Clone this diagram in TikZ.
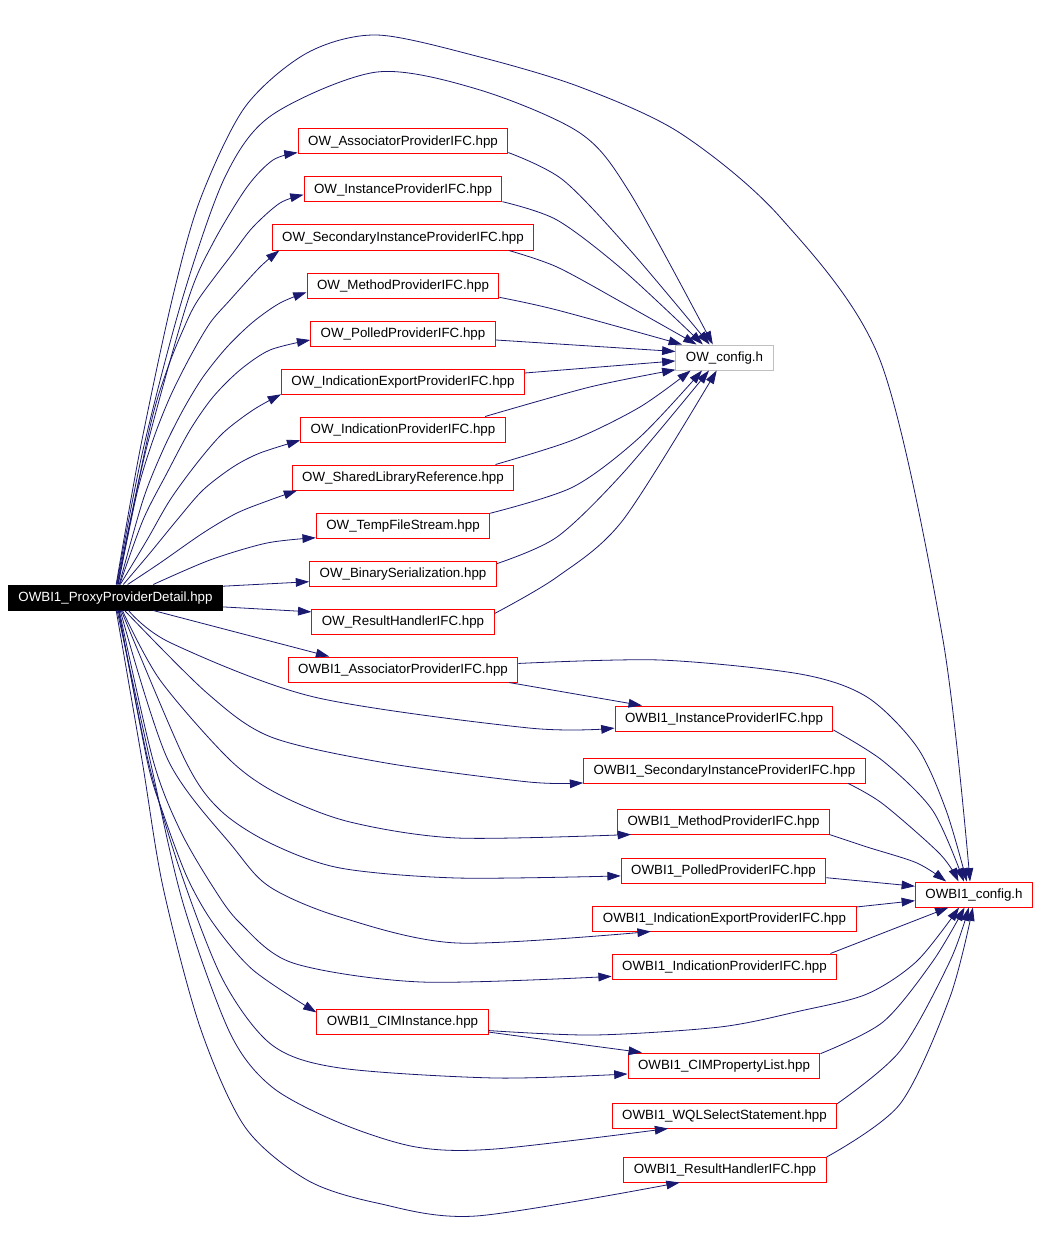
\documentclass[tikz,border=0pt]{standalone}
\usepackage{fontspec}
\setmainfont{Liberation Sans}
\usetikzlibrary{arrows.meta}
\definecolor{edgeblue}{HTML}{191970}
\definecolor{cfggray}{HTML}{BFBFBF}
\tikzset{
  hdrbox/.style={draw=red, line width=0.75pt, fill=white, font=\fontsize{10}{12}\selectfont,
    inner xsep=7.5pt, inner ysep=0pt, minimum height=18.75pt, text height=7.4pt, text depth=2pt},
  rootbox/.style={hdrbox, draw=black, fill=black, text=white},
  cfgbox/.style={hdrbox, draw=cfggray},
  incl/.style={draw=edgeblue, line width=0.6pt, -{Triangle[length=10pt,width=6.5pt]}}
}

\begin{document}
\begin{tikzpicture}[x=0.75pt, y=-0.75pt]
\path[use as bounding box, fill=white] (0,0) rectangle (1040,1255);

% the file itself
\node[rootbox] (root) at (115.5,597.5) {OWBI1\_ProxyProviderDetail.hpp};

% OW headers
\node[hdrbox] (owassoc) at (403,141.5) {OW\_AssociatorProviderIFC.hpp};
\node[hdrbox] (owinst) at (403,189.5) {OW\_InstanceProviderIFC.hpp};
\node[hdrbox] (owsecinst) at (403,237.5) {OW\_SecondaryInstanceProviderIFC.hpp};
\node[hdrbox] (owmethod) at (403,285.5) {OW\_MethodProviderIFC.hpp};
\node[hdrbox] (owpolled) at (403,333.5) {OW\_PolledProviderIFC.hpp};
\node[hdrbox] (owindexp) at (403,381.5) {OW\_IndicationExportProviderIFC.hpp};
\node[hdrbox] (owind) at (403,429.5) {OW\_IndicationProviderIFC.hpp};
\node[hdrbox] (owshlib) at (403,477.5) {OW\_SharedLibraryReference.hpp};
\node[hdrbox] (owtemp) at (403,525.5) {OW\_TempFileStream.hpp};
\node[hdrbox] (owbinser) at (403,573.5) {OW\_BinarySerialization.hpp};
\node[hdrbox] (owresult) at (403,621.5) {OW\_ResultHandlerIFC.hpp};
\node[cfgbox] (owcfg) at (724.5,357.5) {OW\_config.h};

% OWBI1 headers
\node[hdrbox] (biassoc) at (403,669.5) {OWBI1\_AssociatorProviderIFC.hpp};
\node[hdrbox] (biinst) at (724,718.5) {OWBI1\_InstanceProviderIFC.hpp};
\node[hdrbox] (bisecinst) at (724.5,770.5) {OWBI1\_SecondaryInstanceProviderIFC.hpp};
\node[hdrbox] (bimethod) at (723.5,821.5) {OWBI1\_MethodProviderIFC.hpp};
\node[hdrbox] (bipolled) at (723.5,870.5) {OWBI1\_PolledProviderIFC.hpp};
\node[hdrbox] (biindexp) at (724.5,918.5) {OWBI1\_IndicationExportProviderIFC.hpp};
\node[hdrbox] (biind) at (724.5,966.5) {OWBI1\_IndicationProviderIFC.hpp};
\node[hdrbox] (bicim) at (402.5,1021.5) {OWBI1\_CIMInstance.hpp};
\node[hdrbox] (biprop) at (724,1065.5) {OWBI1\_CIMPropertyList.hpp};
\node[hdrbox] (biwql) at (724.5,1115.5) {OWBI1\_WQLSelectStatement.hpp};
\node[hdrbox] (biresult) at (725,1169.5) {OWBI1\_ResultHandlerIFC.hpp};
\node[hdrbox] (bicfg) at (974,894.5) {OWBI1\_config.h};

% includes of the file, upwards
\draw[incl] plot[smooth] coordinates {(root.87.7) (140,450) (172,300) (200,200) (245,107) (307,53) (377,35) (480,57) (580,87) (680,133) (780,217) (880,360) (943,640) (bicfg.107.7)};
\draw[incl] plot[smooth] coordinates {(root.85.4) (143,450) (182,300) (225,177) (272,115) (377,72) (480,90) (580,133) (630,193) (owcfg.132.6)};
\draw[incl] plot[smooth] coordinates {(root.83.2) (146,450) (188,300) (213,243) (247,187) (273,160) (owassoc.186)};
\draw[incl] plot[smooth] coordinates {(root.80.9) (150,427) (167,370) (183,330) (198,300) (233,253) (253,227) (280,203) (owinst.183)};
\draw[incl] plot[smooth] coordinates {(root.78.7) (137,493) (153,440) (170,397) (190,357) (210,323) (230,300) (260,267) (owsecinst.186)};
\draw[incl] plot[smooth] coordinates {(root.74.4) (143,500) (163,450) (183,410) (203,377) (227,347) (253,322) (280,303) (owmethod.184.5)};
\draw[incl] plot[smooth] coordinates {(root.72.3) (143,520) (167,473) (190,430) (213,397) (240,370) (270,350) (owpolled.184)};
\draw[incl] plot[smooth] coordinates {(root.70.2) (147,540) (170,500) (197,463) (223,433) (253,410) (owindexp.186.6)};
\draw[incl] plot[smooth] coordinates {(root.59) (150,553) (177,520) (203,490) (233,467) (260,453) (owind.186)};
\draw[incl] plot[smooth] coordinates {(root.47.4) (160,563) (203,533) (237,513) (270,500) (owshlib.187.5)};
\draw[incl] plot[smooth] coordinates {(root.19.9) (210,560) (267,543) (owtemp.188.8)};
\draw[incl] (root.6.2) -- (owbinser.185);
\draw[incl] (root.-5.1) -- (owresult.174);
\draw[incl] (root.-19.9) -- (biassoc.170.9);

% includes of the file, downwards
\draw[incl] plot[smooth] coordinates {(root.-45) (171,643) (314,697) (529,728) (biinst.185)};
\draw[incl] plot[smooth] coordinates {(root.-55.8) (207,693) (271,737) (386,763) (529,782) (bisecinst.185)};
\draw[incl] plot[smooth] coordinates {(root.-62.5) (160,680) (230,760) (280,795) (350,822) (457,838) (bimethod.188.4)};
\draw[incl] plot[smooth] coordinates {(root.-66.3) (185,760) (220,810) (270,843) (340,868) (457,878) (bipolled.183.6)};
\draw[incl] plot[smooth] coordinates {(root.-70.2) (168,760) (233,847) (270,887) (340,917) (457,943) (biindexp.190.8)};
\draw[incl] plot[smooth] coordinates {(root.-74.4) (153,760) (180,830) (213,887) (240,923) (293,963) (421,982) (biind.185.8)};
\draw[incl] plot[smooth] coordinates {(root.-76.5) (147,760) (163,813) (187,877) (213,923) (253,970) (bicim.174)};
\draw[incl] plot[smooth] coordinates {(root.-78.7) (148,760) (180,870) (223,980) (272,1045) (340,1068) (495,1078) (biprop.185)};
\draw[incl] plot[smooth] coordinates {(root.-83.2) (150,760) (183,903) (230,1033) (272,1087) (340,1123) (416,1147) (495,1149) (biwql.193.6)};
\draw[incl] plot[smooth] coordinates {(root.-87.7) (142,760) (163,887) (200,1027) (245,1127) (307,1180) (377,1203) (476,1216) (biresult.196.6)};

% OW headers to OW_config.h
\draw[incl] plot[smooth] coordinates {(owassoc.-6.2) (563,180) (630,250) (owcfg.139.2)};
\draw[incl] plot[smooth] coordinates {(owinst.-7.4) (557,220) (623,270) (owcfg.149.8)};
\draw[incl] plot[smooth] coordinates {(owsecinst.-7.4) (557,267) (623,303) (owcfg.155.6)};
\draw[incl] plot[smooth] coordinates {(owmethod.-7.4) (557,310) (owcfg.163.2)};
\draw[incl] (owpolled.-4) -- (owcfg.173.7);
\draw[incl] (owindexp.4.5) -- (owcfg.-176);
\draw[incl] plot[smooth] coordinates {(owind.9.4) (590,387) (owcfg.194.5)};
\draw[incl] plot[smooth] coordinates {(owshlib.8.7) (573,440) (640,407) (owcfg.201.6)};
\draw[incl] plot[smooth] coordinates {(owtemp.8.2) (573,487) (640,437) (owcfg.210.2)};
\draw[incl] plot[smooth] coordinates {(owbinser.6.4) (557,537) (623,473) (owcfg.220.8)};
\draw[incl] plot[smooth] coordinates {(owresult.5.4) (557,577) (623,520) (owcfg.239)};

% OWBI1 headers among themselves and to OWBI1_config.h
\draw[incl] (biassoc.-7.9) -- (biinst.171.2);
\draw[incl] plot[smooth] coordinates {(biassoc.3.7) (660,660) (800,674) (867,697) (917,747) (946,810) (bicfg.119.2)};
\draw[incl] plot[smooth] coordinates {(biinst.-6.5) (883,761) (933,811) (bicfg.128)};
\draw[incl] plot[smooth] coordinates {(bisecinst.-6.6) (883,804) (940,854) (bicfg.140.2)};
\draw[incl] plot[smooth] coordinates {(bimethod.-7.6) (867,847) (917,863) (bicfg.155.2)};
\draw[incl] (bipolled.-4.7) -- (bicfg.172.8);
\draw[incl] (biindexp.5.7) -- (bicfg.186.3);
\draw[incl] plot[smooth] coordinates {(biind.7.7) (883,933) (bicfg.207.5)};
\draw[incl] plot[smooth] coordinates {(bicim.-6.3) (594,1035) (720,1027) (800,1011) (867,994) (917,961) (bicfg.221.8)};
\draw[incl] (bicim.-7) -- (biprop.171.7);
\draw[incl] plot[smooth] coordinates {(biprop.7.3) (883,1022) (933,961) (bicfg.234.2)};
\draw[incl] plot[smooth] coordinates {(biwql.6.6) (900,1051) (950,961) (bicfg.248.2)};
\draw[incl] plot[smooth] coordinates {(biresult.7) (900,1104) (950,997) (bicfg.265.4)};
\end{tikzpicture}
\end{document}
